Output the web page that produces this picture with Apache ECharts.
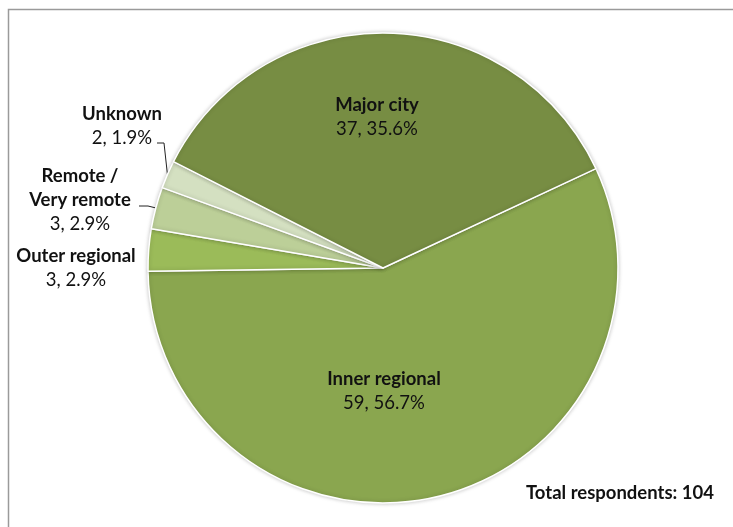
<!DOCTYPE html>
<html>
<head>
<meta charset="utf-8">
<script src="https://cdn.jsdelivr.net/npm/echarts@6/dist/echarts.min.js"></script>
<style>
  html, body { margin: 0; padding: 0; background: #fff; }
  #chart { width: 733px; height: 527px; }
</style>
</head>
<body>
<div id="chart"></div>
<script>
// Respondents by remoteness area
const categories = ['Inner regional', 'Outer regional', 'Remote /\nVery remote', 'Unknown', 'Major city'];
const counts = [59, 3, 3, 2, 37];
const sliceColors = ['#8aa64f', '#9bbb59', '#bccf98', '#d4e0c1', '#778d43'];

const total = counts.reduce((a, b) => a + b, 0);
const FONT = 'Lato, "Open Sans", sans-serif';
const FS = 18.5;

// Where each label block sits (center of the text block)
const labelSpots = [
  { x: 384, y: 391 },
  { x: 76, y: 268 },
  { x: 80, y: 200 },
  { x: 122, y: 126 },
  { x: 377, y: 117 }
];
// Knee and end of the leader lines (outside labels only)
const leaderBends = {
  2: [[148, 206], [139, 206]],
  3: [[164, 143], [157, 143]]
};

const chart = echarts.init(document.getElementById('chart'), null, { renderer: 'canvas' });

const data = categories.map((name, i) => ({
  name: name,
  value: counts[i],
  itemStyle: { color: sliceColors[i] },
  label: { position: (i === 0 || i === 4) ? 'inside' : 'outside' },
  labelLine: { show: !!leaderBends[i] }
}));

chart.setOption({
  animation: false,
  title: {
    text: 'Total respondents: ' + total,
    right: 14,
    bottom: 19,
    textStyle: { fontFamily: FONT, fontSize: FS, fontWeight: 'bold', color: '#111' }
  },
  graphic: [{
    type: 'rect',
    shape: { x: 8.5, y: 9.5, width: 900, height: 700 },
    style: { fill: 'none', stroke: '#9a9a9a', lineWidth: 1.5 },
    silent: true,
    z: -10
  }],
  series: [{
    type: 'pie',
    center: [383, 268],
    radius: [0, 235],
    startAngle: 25,
    clockwise: true,
    avoidLabelOverlap: false,
    data: data,
    itemStyle: {
      borderColor: '#ffffff',
      borderWidth: 1.5,
      shadowBlur: 4,
      shadowColor: 'rgba(0,0,0,0.22)'
    },
    label: {
      show: true,
      color: '#111',
      fontFamily: FONT,
      align: 'center',
      lineHeight: 24,
      formatter: p => '{n|' + p.name + '}\n{v|' + p.value + ', ' + (p.value / total * 100).toFixed(1) + '%}',
      rich: {
        n: { fontFamily: FONT, fontSize: FS, fontWeight: 'bold', color: '#111', lineHeight: 24, align: 'center' },
        v: { fontFamily: FONT, fontSize: FS, color: '#111', lineHeight: 24, align: 'center' }
      }
    },
    labelLine: {
      show: true,
      length: 10,
      length2: 10,
      lineStyle: { color: '#222', width: 1 }
    },
    labelLayout: function (params) {
      const i = params.dataIndex;
      const spot = labelSpots[i];
      const out = { x: spot.x, y: spot.y, align: 'center', verticalAlign: 'middle' };
      if (leaderBends[i] && params.labelLinePoints) {
        out.labelLinePoints = [params.labelLinePoints[0]].concat(leaderBends[i]);
      }
      return out;
    }
  }]
});
</script>
</body>
</html>
